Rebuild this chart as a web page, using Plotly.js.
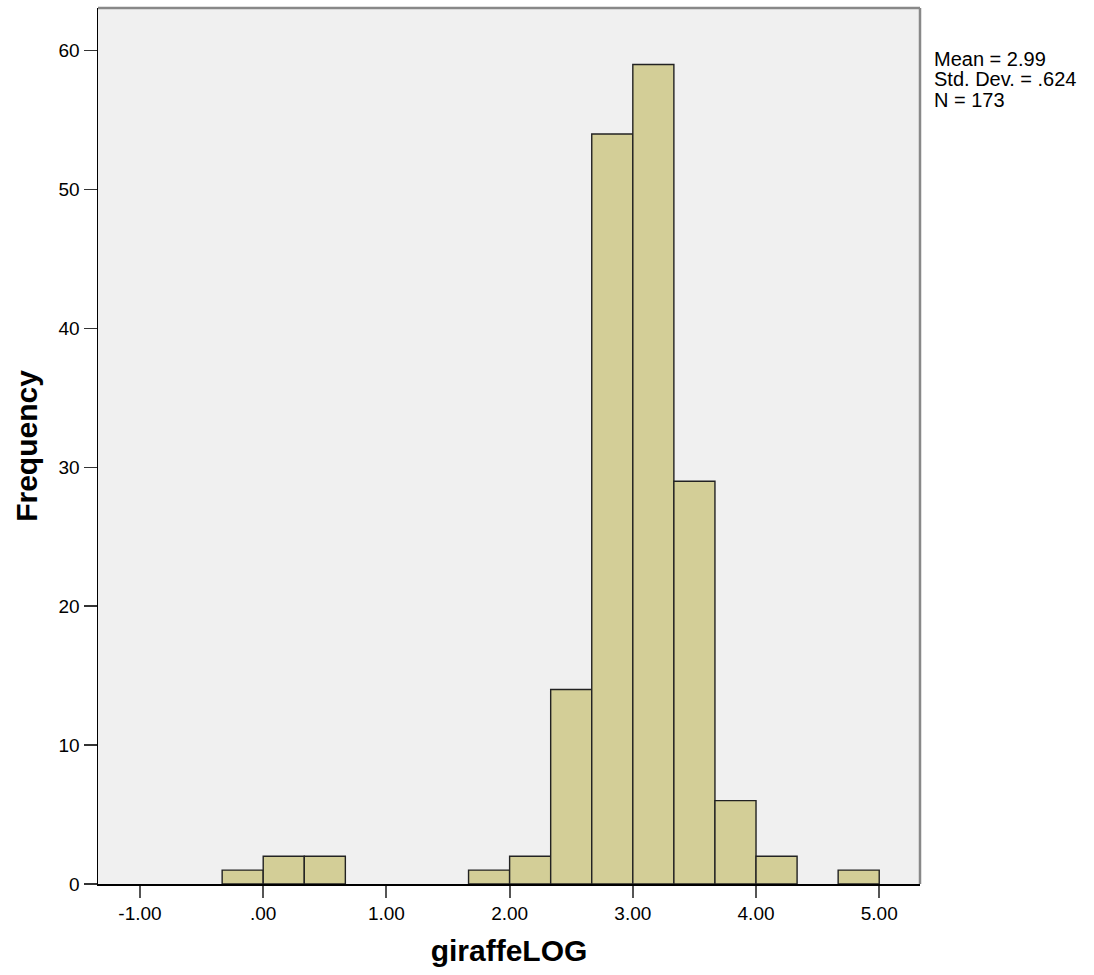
<!DOCTYPE html>
<html>
<head>
<meta charset="utf-8">
<script src="https://cdn.plot.ly/plotly-3.0.1.min.js"></script>
<style>html,body{margin:0;padding:0;background:#fff;}#chart{width:1094px;height:975px;}</style>
</head>
<body>
<div id="chart"></div>
<script>
// Histogram bins (left edges, width 1/3) and frequencies
const binLeft = [-1/3, 0, 1/3, 5/3, 2, 7/3, 8/3, 3, 10/3, 11/3, 4, 14/3];
const counts  = [1, 2, 2, 1, 2, 14, 54, 59, 29, 6, 2, 1];
const binWidth = 1/3;
const xTickVals = [-1, 0, 1, 2, 3, 4, 5];
const xTickText = ["-1.00", ".00", "1.00", "2.00", "3.00", "4.00", "5.00"];
const yTickVals = [0, 10, 20, 30, 40, 50, 60];
const stats = ["Mean = 2.99", "Std. Dev. = .624", "N = 173"];

const trace = {
  type: 'bar',
  x: binLeft,
  y: counts,
  width: binLeft.map(() => binWidth),
  offset: 0,
  marker: { color: '#D3CE97', line: { color: '#222222', width: 1.4 } },
  hoverinfo: 'skip'
};

const font = { family: 'Liberation Sans, Arial, sans-serif', color: '#000' };

const statsAnn = stats.map((s, i) => ({
  xref: 'paper', yref: 'paper', x: 1.015, y: (884 - (59 + i * 20.5)) / 876,
  xanchor: 'left', yanchor: 'middle', align: 'left', showarrow: false,
  text: s, font: Object.assign({ size: 20 }, font)
}));

const layout = {
  width: 1094, height: 975,
  margin: { l: 98, r: 174, t: 8, b: 91 },
  paper_bgcolor: '#ffffff',
  plot_bgcolor: '#F0F0F0',
  showlegend: false,
  bargap: 0,
  font: Object.assign({ size: 19 }, font),
  xaxis: {
    range: [-1.341, 5.331],
    tickvals: xTickVals, ticktext: xTickText,
    ticks: 'outside', ticklen: 12, tickwidth: 2, tickcolor: '#555',
    showline: true, linecolor: '#000', linewidth: 1.5,
    showgrid: false, zeroline: false,
    tickfont: Object.assign({ size: 19 }, font),
    title: { text: '<b>giraffeLOG</b>', font: Object.assign({ size: 30 }, font), standoff: 16 }
  },
  yaxis: {
    range: [0, 63.07],
    tickvals: yTickVals,
    ticks: 'outside', ticklen: 13, tickwidth: 1.5, tickcolor: '#333',
    showline: true, linecolor: '#000', linewidth: 1.5,
    showgrid: false, zeroline: false,
    tickfont: Object.assign({ size: 19 }, font),
    title: { text: '<b>Frequency</b>', font: Object.assign({ size: 30 }, font), standoff: 12 }
  },
  shapes: [
    { type: 'line', xref: 'paper', yref: 'paper', x0: 0, x1: 1, y0: 1, y1: 1, line: { color: '#888', width: 2.5 } },
    { type: 'line', xref: 'paper', yref: 'paper', x0: 1, x1: 1, y0: 0, y1: 1, line: { color: '#888', width: 2.5 } }
  ],
  annotations: statsAnn
};

Plotly.newPlot('chart', [trace], layout, { displayModeBar: false, staticPlot: true });
</script>
</body>
</html>
